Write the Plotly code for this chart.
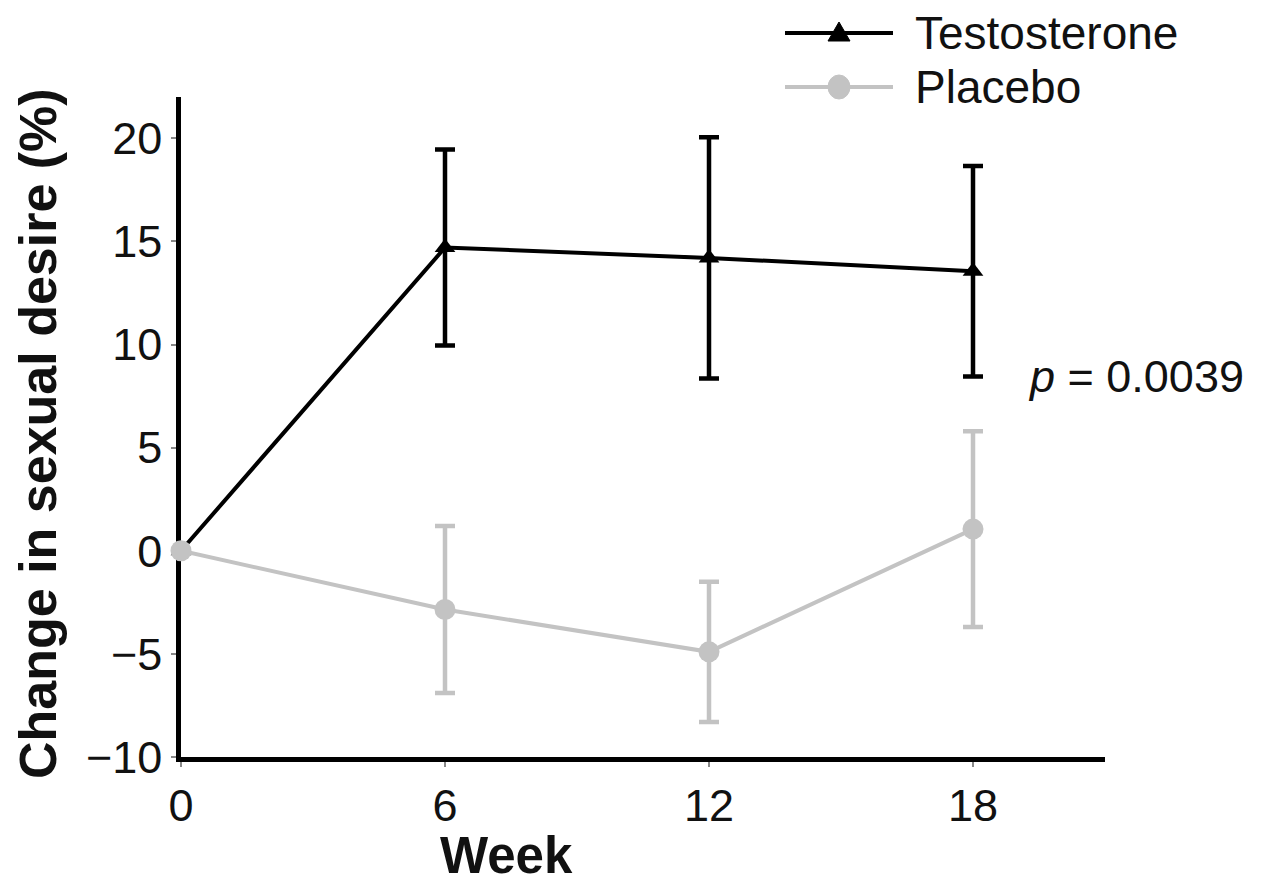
import plotly.graph_objects as go

weeks = [0, 6, 12, 18]
testosterone = [0, 14.7, 14.2, 13.55]
testosterone_err = [0, 4.75, 5.85, 5.1]
placebo = [0, -2.85, -4.9, 1.05]
placebo_err = [0, 4.05, 3.4, 4.75]
x_ticks = [0, 6, 12, 18]
y_ticks = [-10, -5, 0, 5, 10, 15, 20]

BLACK = "#000000"
GREY = "#c3c3c3"
TXT = "#111111"
FONT = "Liberation Sans, Arial, sans-serif"

W, H = 1264, 895
OFF = 8  # page body margin
X0S, Y0S = 181, 757  # screen position of plot-area bottom-left
PW, PH = 924, 660
ML, MT = X0S - OFF, Y0S - PH - OFF
MR, MB = W - ML - PW, H - MT - PH


def px(xs):
    return (xs - X0S) / PW


def py(ys):
    return (Y0S - ys) / PH


fig = go.Figure()
fig.add_trace(go.Scatter(
    x=weeks, y=testosterone, name="Testosterone", mode="lines+markers",
    line=dict(color=BLACK, width=4),
    marker=dict(symbol="triangle-up", size=18, color=BLACK),
    error_y=dict(type="data", array=testosterone_err, color=BLACK, thickness=4.5, width=10),
    cliponaxis=False, showlegend=False,
))
fig.add_trace(go.Scatter(
    x=weeks, y=placebo, name="Placebo", mode="lines+markers",
    line=dict(color=GREY, width=4),
    marker=dict(symbol="circle", size=21, color=GREY),
    error_y=dict(type="data", array=placebo_err, color=GREY, thickness=4.5, width=10),
    cliponaxis=False, showlegend=False,
))

# custom legend (line samples + markers + labels)
shapes = []
annotations = []
legend_items = [("Testosterone", BLACK, "triangle", 33), ("Placebo", GREY, "circle", 87)]
for label, col, sym, ycen in legend_items:
    shapes.append(dict(type="line", xref="paper", yref="paper",
                       x0=px(785), x1=px(893), y0=py(ycen), y1=py(ycen),
                       line=dict(color=col, width=4)))
    cx = 839
    if sym == "triangle":
        path = "M {} {} L {} {} L {} {} Z".format(
            px(cx - 11), py(ycen + 8), px(cx + 11), py(ycen + 8), px(cx), py(ycen - 11))
        shapes.append(dict(type="path", xref="paper", yref="paper", path=path,
                           fillcolor=col, line=dict(color=col, width=1)))
    else:
        shapes.append(dict(type="circle", xref="paper", yref="paper",
                           x0=px(cx - 11), x1=px(cx + 11), y0=py(ycen + 12), y1=py(ycen - 12),
                           fillcolor=col, line=dict(color=col, width=1)))
    annotations.append(dict(text=label, xref="paper", yref="paper", x=px(914), y=py(ycen),
                            xanchor="left", yanchor="middle", showarrow=False, borderpad=0,
                            font=dict(family=FONT, size=46, color=TXT)))

annotations.append(dict(text="<i>p</i> = 0.0039", xref="paper", yref="paper",
                        x=px(1026), y=py(377), xanchor="left", yanchor="middle",
                        showarrow=False, font=dict(family=FONT, size=45, color=TXT)))
annotations.append(dict(text="<b>Change in sexual desire (%)</b>", xref="paper", yref="paper",
                        x=px(38), y=py(434), xanchor="center", yanchor="middle", textangle=-90,
                        showarrow=False, borderpad=0,
                        font=dict(family=FONT, size=52, color=TXT)))
annotations.append(dict(text="<b>Week</b>", xref="paper", yref="paper",
                        x=px(506), y=py(856), xanchor="center", yanchor="middle",
                        showarrow=False, font=dict(family=FONT, size=51, color=TXT)))

fig.update_layout(
    width=W, height=H,
    margin=dict(l=ML, r=MR, t=MT, b=MB),
    paper_bgcolor="white", plot_bgcolor="white",
    shapes=shapes, annotations=annotations,
    showlegend=False,
)
fig.update_xaxes(
    range=[0, 21], tickvals=x_ticks, ticktext=[str(v) for v in x_ticks],
    showgrid=False, zeroline=False, showline=True, linecolor=BLACK, linewidth=4.5,
    ticks="outside", ticklen=5, tickwidth=1.5, tickcolor="#888888",
    tickfont=dict(family=FONT, size=45, color=TXT), layer="below traces",
)
fig.update_yaxes(
    range=[-10, 22], tickvals=y_ticks,
    showgrid=False, zeroline=False, showline=True, linecolor=BLACK, linewidth=4.5,
    ticks="outside", ticklen=5, tickwidth=1.5, tickcolor="#888888",
    tickfont=dict(family=FONT, size=45, color=TXT), layer="below traces",
)

fig.write_html("out.html")
